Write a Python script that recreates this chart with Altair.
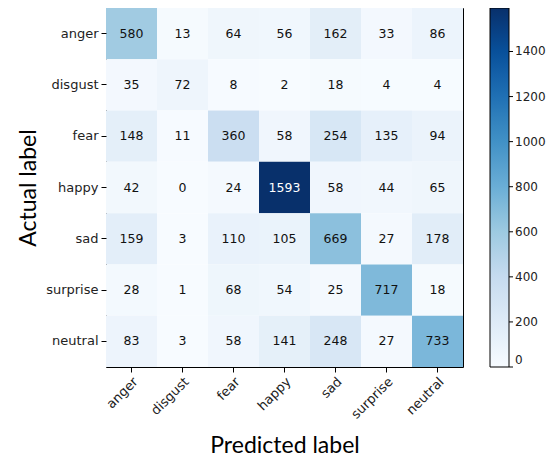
import altair as alt
import pandas as pd

labels = ["anger", "disgust", "fear", "happy", "sad", "surprise", "neutral"]
row_anger = [580, 13, 64, 56, 162, 33, 86]
row_disgust = [35, 72, 8, 2, 18, 4, 4]
row_fear = [148, 11, 360, 58, 254, 135, 94]
row_happy = [42, 0, 24, 1593, 58, 44, 65]
row_sad = [159, 3, 110, 105, 669, 27, 178]
row_surprise = [28, 1, 68, 54, 25, 717, 18]
row_neutral = [83, 3, 58, 141, 248, 27, 733]
colorbar_ticks = [0, 200, 400, 600, 800, 1000, 1200, 1400]

rows = [row_anger, row_disgust, row_fear, row_happy, row_sad, row_surprise, row_neutral]
records = []
for actual, row in zip(labels, rows):
    for pred, v in zip(labels, row):
        records.append({"actual": actual, "predicted": pred, "count": v})
df = pd.DataFrame(records)
vmax = int(df["count"].max())

blues = ["#f7fbff", "#deebf7", "#c6dbef", "#9ecae1", "#6baed6",
         "#4292c6", "#2171b5", "#08519c", "#08306b"]
dom = [vmax * i / 8 for i in range(9)]

W, H = 357, 359
LEG_OFF, LEG_THICK = 27, 19

base = alt.Chart(df)
x = alt.X("predicted:N", sort=labels, title="Predicted label",
          scale=alt.Scale(paddingInner=0, paddingOuter=0))
y = alt.Y("actual:N", sort=labels, title="Actual label",
          scale=alt.Scale(paddingInner=0, paddingOuter=0))

heat = base.mark_rect().encode(
    x=x, y=y,
    color=alt.Color("count:Q",
                    scale=alt.Scale(domain=dom, range=blues, interpolate="rgb"),
                    legend=alt.Legend(title=None, values=colorbar_ticks, format="d",
                                      gradientLength=H, gradientThickness=LEG_THICK,
                                      gradientStrokeColor="black", gradientStrokeWidth=1,
                                      labelFontSize=12, labelFont="DejaVu Sans",
                                      labelColor="#222", labelOverlap=False,
                                      labelBaseline="middle", labelOffset=6,
                                      offset=LEG_OFF, direction="vertical")),
)
text = base.mark_text(font="DejaVu Sans", fontSize=12.5).encode(
    x=alt.X("predicted:N", sort=labels),
    y=alt.Y("actual:N", sort=labels),
    text="count:Q",
    color=alt.condition(alt.datum.count > vmax / 2, alt.value("white"), alt.value("#111")),
)

tick_df = pd.DataFrame({"v": colorbar_ticks})
cbar_ticks = alt.Chart(tick_df).mark_rule(color="black", strokeWidth=1).encode(
    y=alt.Y("v:Q", scale=alt.Scale(domain=[0, vmax], nice=False, zero=False), axis=None),
    x=alt.value(W + LEG_OFF + LEG_THICK),
    x2=alt.value(W + LEG_OFF + LEG_THICK + 4),
)

chart = alt.layer(alt.layer(heat, text), cbar_ticks).resolve_scale(y="independent").properties(
    width=W, height=H,
    autosize=alt.AutoSizeParams(type="none"),
    padding={"left": 98, "top": 0, "right": 83, "bottom": 91},
).configure_view(stroke="black", strokeWidth=1).configure_axis(
    grid=False, domain=False, tickColor="black", tickSize=5,
    labelFont="DejaVu Sans", labelFontSize=13, labelColor="#222", labelPadding=3,
    titleFont="Lato", titleFontSize=23, titleFontWeight="normal", titleColor="black",
).configure_axisX(
    labelAngle=-45, labelAlign="right", labelBaseline="top", titlePadding=13,
).configure_axisY(titlePadding=5)

chart.save("out.html", embed_options={"renderer": "svg", "actions": False})
